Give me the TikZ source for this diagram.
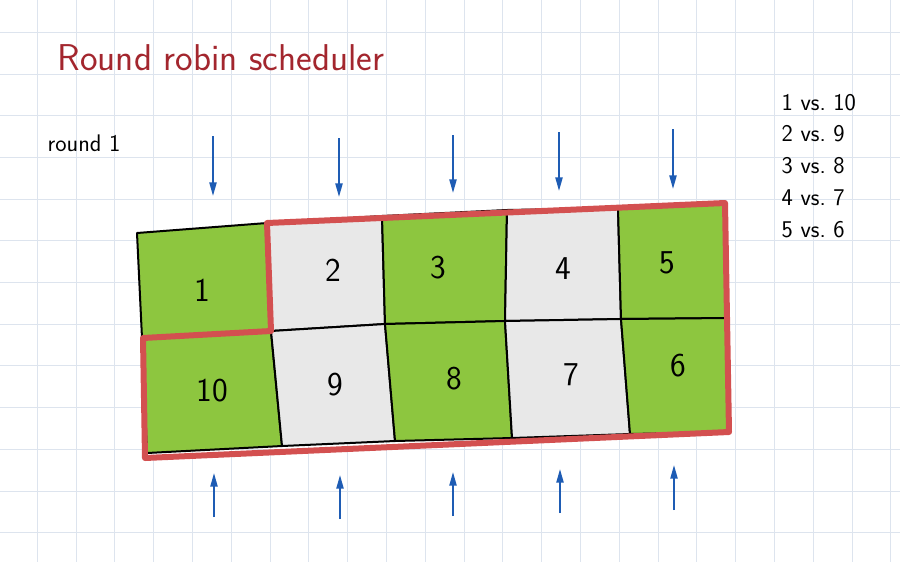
\documentclass[tikz,border=0pt]{standalone}
\usepackage{tikz}
\usetikzlibrary{arrows.meta}
\definecolor{gridblue}{RGB}{221,228,238}
\definecolor{cellgreen}{RGB}{141,198,63}
\definecolor{cellgray}{RGB}{232,232,232}
\definecolor{borderred}{RGB}{211,80,80}
\definecolor{arrowblue}{RGB}{30,92,180}
\definecolor{titlered}{RGB}{163,38,46}

\begin{document}
\begin{tikzpicture}[x=0.75pt, y=-0.75pt,
    cell/.style={draw=black, line width=1.5pt, line join=round},
    feed/.style={draw=arrowblue, line width=2.2pt, -{Triangle[length=11pt, width=5pt]}},
    num/.style={font=\sffamily\fontsize{25}{27}\selectfont},
    note/.style={font=\sffamily\fontsize{18}{20}\selectfont}]
    % Page and grid paper
    \useasboundingbox (0, 0) rectangle (900, 562);
    \fill[white] (0, 0) rectangle (900, 562);
    \foreach \k in {0, ..., 22}{
      \draw[gridblue, line width=0.7pt] ({37.3+38.8*\k}, 0) -- ({37.3+38.8*\k}, 562);
    }
    \foreach \k in {0, ..., 12}{
      \draw[gridblue, line width=0.7pt] (0, {32.3+41.7*\k}) -- (900, {32.3+41.7*\k});
    }
    % Corners of the board (top, middle, bottom)
    \foreach \i/\tx/\ty/\mx/\my/\bx/\by in {0/137/233/142/338/147/453,
      1/267/223/271/331/282/446, 2/382/216/385/324/395/441,
      3/507/210/505/321/512/438, 4/618/208/621/319/630/434,
      5/725/203/727/318/729/432}{
      \coordinate (T\i) at (\tx, \ty);
      \coordinate (M\i) at (\mx, \my);
      \coordinate (B\i) at (\bx, \by);
    }
    % Cells, two rows of five
    \foreach \c/\col [count=\p from 0] in {1/cellgreen, 2/cellgray,
      3/cellgreen, 4/cellgray, 5/cellgreen}{
      \filldraw[cell, fill=\col] (T\p) -- (T\c) -- (M\c) -- (M\p) -- cycle;
      \filldraw[cell, fill=\col] (M\p) -- (M\c) -- (B\c) -- (B\p) -- cycle;
    }
    % Players that rotate, everyone but 1
    \draw[borderred, line width=4.5pt, line join=round]
    (T1) -- (T5) -- (B5) -- (145, 458) -- (143, 338) -- (M1) -- cycle;
    % Player numbers
    \foreach \n/\x/\y in {1/202/290, 2/333/270, 3/438/268, 4/563/269,
      5/667/263, 10/212/391, 9/335/385, 8/454/379, 7/571/375, 6/678/366}{
      \node[num] (c\n) at (\x, \y) {\n};
    }
    % Arrows from above
    \foreach \x/\s/\e [count=\i] in {213/136/197, 339/138/198, 453/135/194,
      559/132/192, 673/129/190}{
      \coordinate (in\i) at (\x, \s);
      \coordinate (to\i) at (\x, \e);
      \draw[feed] (in\i) -- (to\i);
    }
    % Arrows from below
    \foreach \x/\s/\e [count=\i] in {214/517/472, 340/519/474, 453/516/471,
      560/513/468, 674/510/464}{
      \coordinate (up\i) at (\x, \s);
      \coordinate (at\i) at (\x, \e);
      \draw[feed] (up\i) -- (at\i);
    }
    % Title and notes
    \node[font=\sffamily\fontsize{28}{30}\selectfont, text=titlered,
      anchor=base west] (title) at (53, 70) {Round robin scheduler};
    \node[note, anchor=base west] (round) at (43, 151) {round 1};
    \foreach \a/\b [count=\i from 0] in {1/10, 2/9, 3/8, 4/7, 5/6}{
      \node[note, anchor=base west] (vs\a) at (777, {110+31.75*\i}) {\a{} vs.\ \b};
    }
\end{tikzpicture}
\end{document}
